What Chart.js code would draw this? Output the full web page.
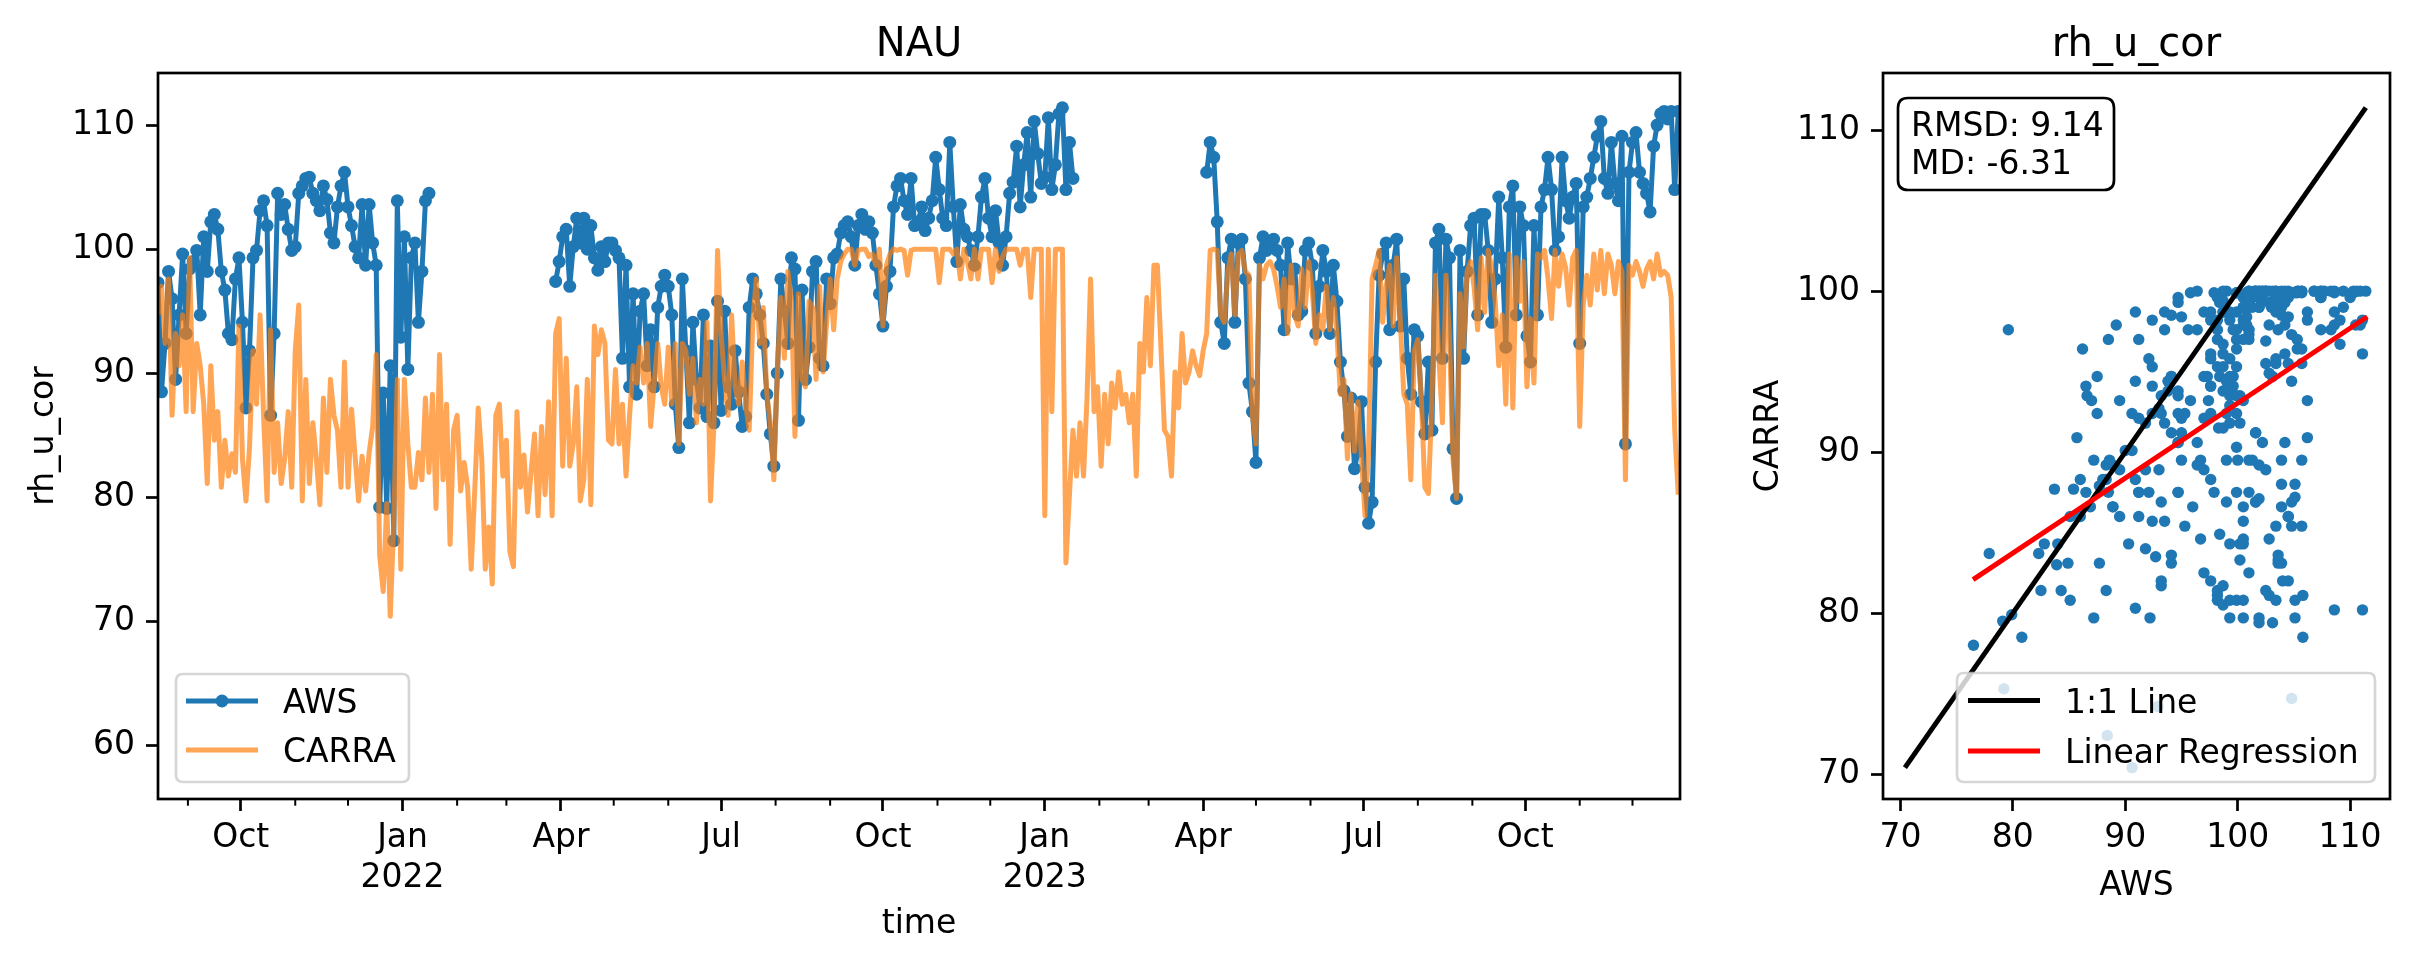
<!DOCTYPE html>
<html><head><meta charset="utf-8">
<script src="https://cdn.jsdelivr.net/npm/chart.js@4.4.1/dist/chart.umd.min.js"></script>
<style>
html,body{margin:0;padding:0;background:#fff;width:2414px;height:964px;overflow:hidden}
#c1{position:absolute;left:0;top:0}
#c2{position:absolute;left:1700px;top:0}
</style></head><body>
<canvas id="c1" width="1700" height="964"></canvas>
<canvas id="c2" width="714" height="964"></canvas>
<script>
// ---------------- data ----------------
const START_DATE = '2021-08-15';
const STEP_DAYS = 2;
const X_END_DAY = 865;

const AWS = [
 97.3, 88.5, 92.4, 98.2, 96.0, 89.5, 94.7, 99.6, 93.2, 98.4,
 99.0, 99.9, 94.7, 101.0, 98.2, 102.2, 102.8, 101.6, 98.2, 96.7,
 93.2, 92.7, 97.6, 99.3, 94.1, 87.2, 91.8, 99.3, 99.9, 103.1,
 103.9, 101.9, 86.6, 93.2, 104.5, 102.8, 103.6, 101.6, 99.9, 100.2,
 104.5, 105.1, 105.7, 105.8, 104.5, 103.9, 103.1, 105.1, 104.0, 101.3,
 100.5, 103.4, 105.1, 106.2, 103.4, 101.9, 100.2, 99.3, 103.6, 98.7,
 103.6, 100.5, 98.7, 79.2, 88.4, 79.1, 90.6, 76.5, 103.9, 92.9,
 101.0, 90.3, 99.3, 100.5, 94.1, 98.2, 103.9, 104.5,
 null,null,null,null,null,null,null,null,null,null,null,null,null,null,null,null,null,null,
 null,null,null,null,null,null,null,null,null,null,null,null,null,null,null,null,null,
 97.4, 99.0, 101.0, 101.6, 97.0, 100.2, 102.5, 100.5, 102.5, 100.0,
 101.9, 99.3, 98.3, 100.2, 99.0, 100.5, 100.5, 99.9, 99.3, 91.2,
 98.7, 88.9, 96.4, 88.3, 95.0, 96.4, 90.6, 93.5, 88.9, 95.3, 97.0, 97.9,
 97.0, 94.7, 87.5, 84.0, 97.6, 91.8, 86.0, 94.1, 89.5, 87.2,
 94.7, 86.5, 92.2, 86.0, 95.8, 87.0, 95.0, 88.9, 87.5, 91.8,
 88.5, 85.7, 86.5, 95.3, 97.6, 96.4, 94.7, 92.4, 88.3, 85.1,
 82.5, 90.0, 97.6, 95.0, 92.4, 99.3, 98.4, 86.2, 96.7, 89.5,
 92.1, 98.2, 99.0, 91.2, 90.6, 97.6, 95.6, 99.3, 99.6, 101.3,
 101.9, 102.2, 101.0, 98.7, 101.9, 102.8, 101.6, 102.2, 101.3, 98.7,
 96.4, 93.8, 97.0, 98.2, 103.4, 105.1, 105.7, 103.9, 102.8, 105.7,
 101.9, 102.2, 103.4,
 101.5, 102.5, 103.9, 107.4, 104.8, 102.5, 101.9, 108.6, 103.4, 99.0,
 103.6, 101.6, 101.0, 99.9, 98.7, 101.0, 104.2, 105.7, 102.5, 101.0,
 103.1, 100.5, 98.7, 101.0, 104.5, 105.4, 108.3, 103.4, 106.8, 109.4,
 104.2, 110.3, 107.7, 105.3, 105.8, 110.6, 104.8, 106.8, 110.9, 111.4,
 104.8, 108.6, 105.7,
 null,null,null,null,null,null,null,null,null,null,null,null,null,null,null,null,null,null,null,
 null,null,null,null,null,null,null,null,null,null,null,null,null,null,null,null,null,null,
 106.2, 108.6, 107.4, 102.2, 94.1, 92.4, 99.3, 100.8, 94.1, 100.5,
 100.8, 97.6, 89.2, 86.9, 82.8, 99.3, 101.0, 99.9, 100.5, 100.8,
 99.9, 98.7, 93.5, 100.5, 97.6, 98.4, 94.7, 95.0, 99.9, 100.5,
 98.7, 93.2, 97.0, 99.9, 98.2, 93.2, 98.7, 95.8, 90.9, 88.6,
 84.9, 88.0, 82.3, 83.7, 87.7, 80.8, 77.9, 79.6, 90.9, 97.9,
 99.6, 100.5, 93.5, 98.7, 100.8, 93.8, 97.6, 91.2, 88.3, 93.5,
 93.0, 87.7,
 85.1, 90.9, 85.4, 100.5, 101.6, 91.2, 100.8, 99.3, 83.9, 79.9,
 99.9, 91.2, 98.2, 101.9, 102.5, 94.7, 102.8, 102.8, 99.9, 94.1,
 97.6, 104.2, 99.3, 92.1, 103.4, 105.1, 94.7, 103.4, 101.9, 93.0,
 90.9, 101.9, 94.7, 103.4, 104.8, 107.4, 104.8, 99.9, 101.0, 107.4,
 103.9, 102.5, 104.2, 105.3, 92.4, 103.4, 104.2, 105.7, 107.4, 109.1,
 110.3, 105.7, 104.5, 108.6, 105.3, 103.9, 109.1, 84.3, 106.2, 108.6,
 109.4, 106.2, 105.3, 104.5, 103.0, 108.3, 110.0, 110.9, 111.1, 110.5,
 111.1, 104.8, 111.1
];

const CARRA = [
 94.7, 97.0, 92.4, 97.6, 86.6, 93.2, 90.6, 94.7, 86.9, 99.3,
 86.9, 92.4, 90.6, 87.5, 81.1, 90.6, 84.6, 86.9, 80.8, 84.6,
 81.7, 83.5, 82.0, 93.8, 83.1, 79.7, 84.0, 91.8, 87.5, 94.7,
 86.6, 79.7, 93.5, 82.0, 86.0, 81.1, 83.1, 86.9, 80.8, 91.8,
 95.5, 79.7, 89.5, 81.1, 86.0, 83.1, 79.4, 88.0, 82.0, 89.5,
 86.6, 85.4, 80.8, 90.9, 80.8, 87.1, 83.3, 79.7, 83.3, 80.5,
 83.6, 85.7, 91.5, 75.3, 72.4, 79.5, 70.4, 78.0, 89.5, 74.2,
 89.5, 84.3, 80.8,
 80.8, 83.6, 81.4, 88.0, 82.0, 88.3, 79.1, 91.5, 81.4, 87.5,
 76.2, 85.4, 86.6, 80.5, 82.8, 80.8, 74.2, 80.5, 87.2, 83.1,
 74.2, 77.6, 73.0, 86.6, 87.5, 81.7, 84.6, 75.6, 74.4, 86.9,
 80.8, 83.4, 78.8, 82.0, 85.1, 78.5, 85.7, 80.2, 87.7, 78.5,
 93.2, 94.4, 82.5, 91.2, 82.5, 84.3, 88.9, 79.7, 81.4, 89.5,
 79.4, 93.8, 91.5, 93.5, 92.4, 84.6, 84.3, 90.3, 84.3, 87.5,
 81.7, 86.6, 90.6, 89.2, 92.1, 89.2, 92.4, 85.7, 89.2, 92.4,
 88.9, 87.5,
 92.1, 87.5, 92.4, 84.3, 92.4, 91.8, 88.3, 91.2, 86.0, 89.5,
 87.5, 94.1, 79.7, 86.0, 99.9, 93.2, 89.5, 86.6, 94.7, 88.9,
 87.5, 90.9, 87.5, 85.4, 94.1, 97.6, 92.4, 95.3, 88.3, 86.0,
 81.4, 90.1, 96.1, 91.2, 98.2, 95.8, 84.9, 96.4, 89.5, 88.9,
 95.8, 95.3, 89.5, 97.0, 90.1, 94.1, 97.6, 93.5, 97.6, 99.0,
 99.6, 100.0, 100.0, 98.7, 99.9, 100.0, 100.0, 99.4, 99.6, 98.7,
 100.0, 93.8, 98.7, 99.6, 100.0, 99.9, 100.0, 99.9, 97.9, 99.9,
 100.0, 100.0, 100.0,
 100.0, 100.0, 100.0, 100.0, 97.3, 100.0, 100.0, 100.0, 99.6, 100.0,
 97.6, 100.0, 99.0, 97.6, 100.0, 97.6, 100.0, 100.0, 100.0, 97.3,
 100.0, 98.2, 99.4, 100.0, 100.0, 100.0, 100.0, 98.7, 100.0, 100.0,
 96.1, 100.0, 100.0, 100.0, 78.5, 100.0, 86.9, 100.0, 100.0, 100.0,
 74.7, 80.2, 85.4, 81.7, 86.0, 81.7, 88.0, 97.6, 86.9, 88.9,
 82.5, 88.3, 84.3, 89.2, 87.2, 90.1, 87.5, 88.3, 86.0, 88.3,
 81.7, 92.4, 90.1, 96.1, 90.6, 98.7, 98.7, 92.1, 85.4, 84.9,
 81.7, 90.1,
 87.2, 93.2, 89.2, 90.1, 91.8, 90.6, 89.8, 91.8, 93.2, 99.9,
 100.0, 99.9, 94.7, 94.1, 98.2, 99.6, 94.7, 99.6, 99.9, 98.2,
 97.9, 86.6, 84.3, 98.7, 97.6, 98.7, 99.0, 98.4, 97.0, 95.3,
 97.6, 93.2, 98.7, 94.7, 93.8, 98.4, 95.3, 99.0, 96.7, 92.4,
 94.7, 93.5, 97.0, 93.5, 96.1, 93.2, 88.3, 89.5, 83.1, 88.3,
 83.7, 87.7, 83.1, 78.5, 83.7, 97.6, 98.7, 99.9, 94.1, 97.0,
 98.7, 93.8, 99.3, 94.4, 88.3, 87.5, 81.4, 91.8, 92.7, 87.9,
 80.8, 80.3, 87.7, 97.9, 91.2, 86.0, 97.9, 92.9, 83.0, 79.9,
 96.4, 92.1, 98.2, 99.0, 96.9, 93.5, 99.3, 94.9, 99.9, 98.5,
 95.8, 90.6, 94.7, 87.5, 99.6, 87.2, 99.3, 95.8, 99.0, 88.9,
 94.4, 89.2, 99.6, 99.3, 99.9, 97.6, 94.4, 99.9, 97.0, 99.6,
 98.5, 95.5, 99.3, 99.9, 85.7, 95.5, 97.9, 95.5, 99.6, 96.7,
 99.9, 96.4, 99.6, 98.7, 96.4, 99.0, 98.2, 81.4, 98.7, 97.9,
 99.0, 98.2, 97.0, 98.4, 99.0, 97.6, 99.6, 97.9, 98.2, 97.9,
 96.1, 85.4, 80.2
];

const MAJOR_TICK_DATES = ['2021-10-01','2022-01-01','2022-04-01','2022-07-01','2022-10-01','2023-01-01','2023-04-01','2023-07-01','2023-10-01'];
const MAJOR_TICK_LABELS = [['Oct'],['Jan','2022'],['Apr'],['Jul'],['Oct'],['Jan','2023'],['Apr'],['Jul'],['Oct']];
const MINOR_TICK_DATES = ['2021-09-01','2021-11-01','2021-12-01','2022-02-01','2022-03-01','2022-05-01','2022-06-01','2022-08-01','2022-09-01','2022-11-01','2022-12-01','2023-02-01','2023-03-01','2023-05-01','2023-06-01','2023-08-01','2023-09-01','2023-11-01','2023-12-01'];
const TS_Y_TICKS = [60, 70, 80, 90, 100, 110];
const TS_Y_LIMITS = [55.67, 114.2];
const SC_TICKS = [70, 80, 90, 100, 110];
const SC_LIMITS = [68.45, 113.55];
const REG_X = [76.46, 111.53];
const REG_Y = [82.08, 98.41];
const STATS_TEXT = ['RMSD: 9.14', 'MD: -6.31'];

// ---------------- helpers ----------------
const FONT = "'DejaVu Sans', 'Liberation Sans', sans-serif";
const BLUE = '#1f77b4';
const ORANGE = 'rgba(255,127,14,0.7)';
const OX = 1700; // left offset of the scatter canvas
const dayOf = s => Math.round((Date.parse(s) - Date.parse(START_DATE)) / 86400000);
const MAJOR_DAYS = MAJOR_TICK_DATES.map(dayOf);
const MINOR_DAYS = MINOR_TICK_DATES.map(dayOf);

const awsPts = AWS.map((v, i) => ({x: i * STEP_DAYS, y: v}));
const carraPts = CARRA.map((v, i) => ({x: i * STEP_DAYS, y: v}));
const pairs = [];
AWS.forEach((a, i) => { const c = CARRA[i]; if (a != null && c != null) pairs.push({x: a, y: c}); });
const allVals = pairs.flatMap(p => [p.x, p.y]);
const LO = Math.min(...allVals), HI = Math.max(...allVals);

Chart.defaults.font.family = FONT;
Chart.defaults.font.size = 33;
Chart.defaults.color = '#000';

function roundRect(ctx, x, y, w, h, r) {
  ctx.beginPath();
  ctx.moveTo(x + r, y);
  ctx.lineTo(x + w - r, y); ctx.quadraticCurveTo(x + w, y, x + w, y + r);
  ctx.lineTo(x + w, y + h - r); ctx.quadraticCurveTo(x + w, y + h, x + w - r, y + h);
  ctx.lineTo(x + r, y + h); ctx.quadraticCurveTo(x, y + h, x, y + h - r);
  ctx.lineTo(x, y + r); ctx.quadraticCurveTo(x, y, x + r, y);
  ctx.closePath();
}
function frame(chart) {
  const a = chart.chartArea, ctx = chart.ctx;
  ctx.save(); ctx.strokeStyle = '#000'; ctx.lineWidth = 2.7;
  ctx.strokeRect(a.left, a.top, a.right - a.left, a.bottom - a.top);
  ctx.restore();
}
function txt(ctx, s, x, y, size, align, rot) {
  ctx.save();
  ctx.font = size + 'px ' + FONT; ctx.fillStyle = '#000';
  ctx.textAlign = align || 'center'; ctx.textBaseline = 'alphabetic';
  ctx.translate(x, y); if (rot) ctx.rotate(rot);
  ctx.fillText(s, 0, 0); ctx.restore();
}
function legendBox(ctx, x, y, w, h) {
  ctx.save();
  roundRect(ctx, x, y, w, h, 7);
  ctx.fillStyle = 'rgba(255,255,255,0.8)'; ctx.fill();
  ctx.strokeStyle = 'rgba(204,204,204,0.8)'; ctx.lineWidth = 2.7; ctx.stroke();
  ctx.restore();
}
function handle(ctx, x0, x1, y, color, marker) {
  ctx.save(); ctx.strokeStyle = color; ctx.lineWidth = 5; ctx.lineCap = 'butt';
  ctx.beginPath(); ctx.moveTo(x0, y); ctx.lineTo(x1, y); ctx.stroke();
  if (marker) { ctx.fillStyle = color; ctx.beginPath(); ctx.arc((x0 + x1) / 2, y, 6.5, 0, Math.PI * 2); ctx.fill(); }
  ctx.restore();
}
const gridOpts = {display: true, drawOnChartArea: false, drawTicks: true, tickLength: 12, tickWidth: 2.7, tickColor: '#000'};

// ---------------- time series ----------------
const decorTS = {
  id: 'decorTS',
  afterDraw(chart) {
    const ctx = chart.ctx, a = chart.chartArea, xs = chart.scales.x;
    frame(chart);
    ctx.save(); ctx.strokeStyle = '#000'; ctx.lineWidth = 2;
    MINOR_DAYS.forEach(d => {
      const px = xs.getPixelForValue(d);
      ctx.beginPath(); ctx.moveTo(px, a.bottom); ctx.lineTo(px, a.bottom + 6.7); ctx.stroke();
    });
    ctx.restore();
    txt(ctx, 'NAU', (a.left + a.right) / 2, 56, 40);
    txt(ctx, 'time', (a.left + a.right) / 2, 933, 33);
    txt(ctx, 'rh_u_cor', 53, (a.top + a.bottom) / 2, 33, 'center', -Math.PI / 2);
    legendBox(ctx, 176, 674, 233, 108);
    handle(ctx, 186, 258, 701, BLUE, true);
    handle(ctx, 186, 258, 750, ORANGE, false);
    txt(ctx, 'AWS', 283, 713, 33, 'left');
    txt(ctx, 'CARRA', 283, 762, 33, 'left');
  }
};

new Chart(document.getElementById('c1'), {
  type: 'line',
  data: {
    datasets: [
      {label: 'AWS', data: awsPts, borderColor: BLUE, borderWidth: 5, pointRadius: 6.5, pointHoverRadius: 6.5,
       pointBackgroundColor: BLUE, pointBorderWidth: 0, spanGaps: false, tension: 0, order: 2,
       borderJoinStyle: 'round'},
      {label: 'CARRA', data: carraPts, borderColor: ORANGE, borderWidth: 5, pointRadius: 0, pointHoverRadius: 0,
       spanGaps: false, tension: 0, order: 1, borderJoinStyle: 'round'}
    ]
  },
  options: {
    responsive: false, animation: false, devicePixelRatio: 1,
    layout: {padding: {left: 0, right: 20, top: 73, bottom: 0}},
    plugins: {legend: {display: false}, tooltip: {enabled: false}, title: {display: false}},
    scales: {
      x: {type: 'linear', min: 0, max: X_END_DAY,
          afterBuildTicks: s => { s.ticks = MAJOR_DAYS.map(v => ({value: v})); },
          afterFit: s => { s.height = 165; },
          ticks: {autoSkip: false, maxRotation: 0, padding: 8, font: {size: 33, lineHeight: 1.2},
                  callback: (v, i) => MAJOR_TICK_LABELS[i]},
          grid: gridOpts, border: {display: false}},
      y: {type: 'linear', min: TS_Y_LIMITS[0], max: TS_Y_LIMITS[1],
          afterBuildTicks: s => { s.ticks = TS_Y_TICKS.map(v => ({value: v})); },
          afterFit: s => { s.width = 158; },
          ticks: {autoSkip: false, padding: 11, font: {size: 33}, callback: v => String(v)},
          grid: gridOpts, border: {display: false}}
    }
  },
  plugins: [decorTS]
});

// ---------------- scatter ----------------
const decorSC = {
  id: 'decorSC',
  afterDraw(chart) {
    const ctx = chart.ctx, a = chart.chartArea;
    frame(chart);
    const cx = (a.left + a.right) / 2;
    txt(ctx, 'rh_u_cor', cx, 56, 40);
    txt(ctx, 'AWS', cx, 895, 33);
    txt(ctx, 'CARRA', 1778 - OX, (a.top + a.bottom) / 2, 33, 'center', -Math.PI / 2);
    // stats box
    ctx.save(); roundRect(ctx, 1898 - OX, 98, 216, 92, 10);
    ctx.fillStyle = '#fff'; ctx.fill(); ctx.strokeStyle = '#000'; ctx.lineWidth = 2.7; ctx.stroke(); ctx.restore();
    txt(ctx, STATS_TEXT[0], 1911 - OX, 136, 33, 'left');
    txt(ctx, STATS_TEXT[1], 1911 - OX, 174, 33, 'left');
    // legend
    legendBox(ctx, 1957 - OX, 673, 418, 109);
    handle(ctx, 1968 - OX, 2040 - OX, 700.5, '#000', false);
    handle(ctx, 1968 - OX, 2040 - OX, 751, '#ff0000', false);
    txt(ctx, '1:1 Line', 2065 - OX, 712.5, 33, 'left');
    txt(ctx, 'Linear Regression', 2065 - OX, 763, 33, 'left');
  }
};

new Chart(document.getElementById('c2'), {
  type: 'scatter',
  data: {
    datasets: [
      {label: 'pts', data: pairs, pointRadius: 5.7, pointHoverRadius: 5.7, backgroundColor: BLUE,
       pointBackgroundColor: BLUE, pointBorderWidth: 0, order: 3},
      {label: '1:1 Line', data: [{x: LO, y: LO}, {x: HI, y: HI}], showLine: true, borderColor: '#000',
       borderWidth: 5, pointRadius: 0, order: 2},
      {label: 'Linear Regression', data: REG_X.map((x, i) => ({x, y: REG_Y[i]})), showLine: true,
       borderColor: '#ff0000', borderWidth: 5, pointRadius: 0, order: 1}
    ]
  },
  options: {
    responsive: false, animation: false, devicePixelRatio: 1,
    layout: {padding: {left: 0, right: 24, top: 73, bottom: 0}},
    plugins: {legend: {display: false}, tooltip: {enabled: false}},
    scales: {
      x: {type: 'linear', min: SC_LIMITS[0], max: SC_LIMITS[1],
          afterBuildTicks: s => { s.ticks = SC_TICKS.map(v => ({value: v})); },
          afterFit: s => { s.height = 165; },
          ticks: {autoSkip: false, maxRotation: 0, padding: 8, font: {size: 33}, callback: v => String(v)},
          grid: gridOpts, border: {display: false}},
      y: {type: 'linear', min: SC_LIMITS[0], max: SC_LIMITS[1],
          afterBuildTicks: s => { s.ticks = SC_TICKS.map(v => ({value: v})); },
          afterFit: s => { s.width = 1883 - OX; },
          ticks: {autoSkip: false, padding: 11, font: {size: 33}, callback: v => String(v)},
          grid: gridOpts, border: {display: false}}
    }
  },
  plugins: [decorSC]
});
</script>
</body></html>
